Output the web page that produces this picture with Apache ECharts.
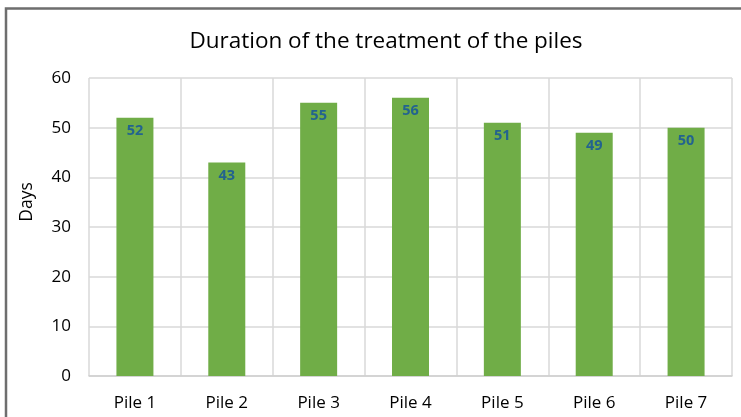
<!DOCTYPE html>
<html>
<head>
<meta charset="utf-8">
<script src="https://cdn.jsdelivr.net/npm/echarts@6/dist/echarts.min.js"></script>
<style>
html,body{margin:0;padding:0;background:#fff;}
#chart{width:741px;height:417px;}
</style>
</head>
<body>
<div id="chart"></div>
<script>
const categories = ['Pile 1', 'Pile 2', 'Pile 3', 'Pile 4', 'Pile 5', 'Pile 6', 'Pile 7'];
const days = [52, 43, 55, 56, 51, 49, 50];
const yTicks = { min: 0, max: 60, interval: 10 };

const FONT = '"Open Sans", Lato, sans-serif';
const chart = echarts.init(document.getElementById('chart'));
chart.setOption({
  animation: false,
  backgroundColor: '#ffffff',
  textStyle: { fontFamily: FONT },
  graphic: [{
    type: 'rect',
    shape: { x: 6, y: 8.5, width: 760, height: 430 },
    style: { fill: 'none', stroke: '#6e6e6e', lineWidth: 2.5 },
    silent: true
  }, {
    type: 'text',
    x: 27, y: 202, rotation: Math.PI / 2,
    style: {
      text: 'Days', fill: '#000', fontSize: 17.5, fontFamily: FONT,
      align: 'center', verticalAlign: 'middle'
    },
    silent: true
  }],
  title: {
    text: 'Duration of the treatment of the piles',
    left: 381, top: 25, textAlign: 'center',
    textStyle: { fontFamily: FONT, fontSize: 22.5, fontWeight: 'normal', color: '#000' }
  },
  grid: { left: 89, top: 78, right: 9, bottom: 41, containLabel: false },
  xAxis: {
    type: 'category',
    data: categories,
    axisLine: { show: true, lineStyle: { color: '#d0d0d0', width: 1.5 } },
    axisTick: { show: false },
    splitLine: { show: true, lineStyle: { color: '#d9d9d9', width: 1.5 } },
    axisLabel: { color: '#000', fontSize: 17, fontFamily: FONT, margin: 19 }
  },
  yAxis: {
    type: 'value',
    min: yTicks.min, max: yTicks.max, interval: yTicks.interval,
    axisLine: { show: false },
    axisTick: { show: false },
    splitLine: { lineStyle: { color: '#d9d9d9', width: 1.5 } },
    axisLabel: { color: '#000', fontSize: 17, fontFamily: FONT, margin: 18 }
  },
  series: [{
    type: 'bar',
    data: days,
    barWidth: 37,
    itemStyle: { color: '#70ad47' },
    label: {
      show: true, position: 'insideTop', distance: 6,
      color: '#23638f', fontWeight: 'bold', fontSize: 14.5, fontFamily: FONT
    }
  }]
});
</script>
</body>
</html>
